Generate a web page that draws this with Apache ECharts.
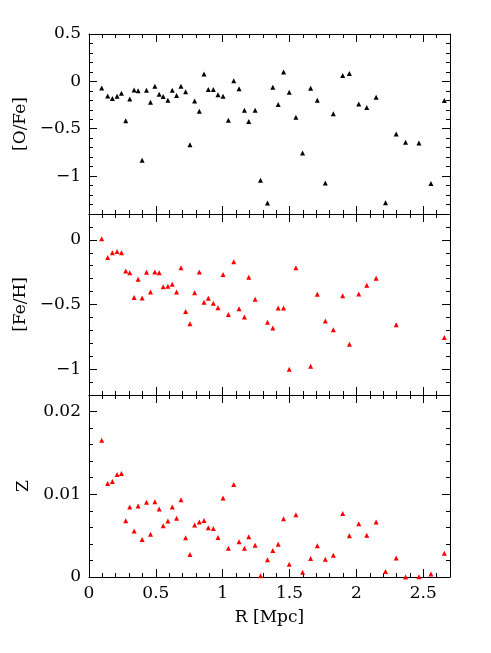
<!DOCTYPE html>
<html>
<head>
<meta charset="utf-8">
<script src="https://cdn.jsdelivr.net/npm/echarts@6/dist/echarts.min.js"></script>
<style>
html,body{margin:0;padding:0;background:#fff;}
#chart{width:491px;height:653px;}
</style>
</head>
<body>
<div id="chart"></div>
<script>
// Radius [Mpc]
const R = [0.095, 0.14, 0.175, 0.21, 0.2425, 0.275, 0.305, 0.3375, 0.3675, 0.3975,
  0.43, 0.46, 0.4925, 0.525, 0.555, 0.59, 0.6225, 0.655, 0.6875, 0.7225,
  0.755, 0.79, 0.825, 0.86, 0.8925, 0.93, 0.965, 1.0025, 1.0425, 1.0825,
  1.1225, 1.1625, 1.195, 1.2425, 1.2825, 1.335, 1.375, 1.415, 1.455, 1.4975,
  1.5475, 1.5975, 1.6575, 1.7075, 1.7675, 1.8275, 1.8975, 1.9475, 2.0175, 2.0775,
  2.1475, 2.2175, 2.2975, 2.3675, 2.4675, 2.5575, 2.6575];
// [O/Fe]
const OFe = [-0.07, -0.154, -0.18, -0.157, -0.126, -0.416, -0.185, -0.09, -0.098, -0.832,
  -0.094, -0.22, -0.052, -0.136, -0.16, -0.2, -0.094, -0.15, -0.052, -0.11,
  -0.67, -0.206, -0.315, 0.077, -0.087, -0.087, -0.14, -0.157, -0.41, 0.007,
  -0.077, -0.304, -0.423, -0.304, -1.045, -1.283, -0.063, -0.243, 0.098, -0.115,
  -0.378, -0.755, -0.073, -0.2, -1.073, -0.343, 0.063, 0.084, -0.238, -0.276,
  -0.168, -1.28, -0.556, -0.643, -0.65, -1.077, -0.203];
// [Fe/H] (null = below plotted range)
const FeH = [0.008, -0.136, -0.1, -0.09, -0.1, -0.241, -0.254, -0.446, -0.305, -0.449,
  -0.251, -0.403, -0.249, -0.254, -0.362, -0.359, -0.344, -0.403, -0.215, -0.554,
  -0.649, -0.41, -0.249, -0.482, -0.451, -0.49, -0.526, -0.267, -0.577, -0.169,
  -0.533, -0.597, -0.29, -0.459, null, -0.638, -0.682, -0.528, -0.528, -1.0,
  -0.215, null, -0.977, -0.42, -0.628, -0.695, -0.433, -0.808, -0.418, -0.351,
  -0.297, null, -0.656, null, null, null, -0.756];
// Z
const Zmet = [0.01652, 0.0113, 0.01154, 0.01239, 0.01251, 0.0068, 0.00846, 0.00555, 0.00858, 0.00453,
  0.00903, 0.00518, 0.00911, 0.00822, 0.00619, 0.00676, 0.00846, 0.00709, 0.00935, 0.00474,
  0.00271, 0.00628, 0.00664, 0.00684, 0.00595, 0.00587, 0.00478, 0.00955, 0.00348, 0.01117,
  0.00425, 0.00348, 0.00486, 0.00385, 0.00016, 0.0021, 0.0032, 0.00397, 0.00704, 0.00154,
  0.00753, 0.00057, 0.00223, 0.00377, 0.00215, 0.00263, 0.00769, 0.00498, 0.00644, 0.00506,
  0.00664, 0.00065, 0.00231, 0.0, 0.00004, 0.00036, 0.00287];

// Tick labels
const xTickLabels = ['0', '0.5', '1', '1.5', '2', '2.5'];
const ofeTickLabels = ['0.5', '0', '\u22120.5', '\u22121'];
const fehTickLabels = ['0', '\u22120.5', '\u22121'];
const zTickLabels = ['0.02', '0.01', '0'];

const FONT = 'DejaVu Serif';
const FS = 17;
const chart = echarts.init(document.getElementById('chart'), null, {renderer: 'canvas'});

const gridsPx = [
  {top: 34, height: 180},
  {top: 214, height: 181},
  {top: 395, height: 182}
];
const panels = [
  {name: '[O/Fe]', min: -1.4, max: 0.5, major: 0.5, minor: 0.1, labels: ofeTickLabels, nameGap: 56, data: OFe, color: '#000000'},
  {name: '[Fe/H]', min: -1.2, max: 0.2, major: 0.5, minor: 0.1, labels: fehTickLabels, nameGap: 56, data: FeH, color: '#ff0000'},
  {name: 'Z', min: 0, max: 0.022, major: 0.01, minor: 0.002, labels: zTickLabels, nameGap: 49, data: Zmet, color: '#ff0000'}
];

function fmt(v) {
  return String(+v.toFixed(6)).replace('-', '\u2212');
}

const grid = [], xAxis = [], yAxis = [], series = [];
const lineStyle = {color: '#000', width: 1};
panels.forEach((p, i) => {
  grid.push({left: 89, width: 361, top: gridsPx[i].top, height: gridsPx[i].height, containLabel: false});
  const isLast = i === panels.length - 1;
  ['bottom', 'top'].forEach(pos => {
    xAxis.push({
      type: 'value', gridIndex: i, position: pos, min: 0, max: 2.7, interval: 0.5,
      axisLine: {show: true, onZero: false, lineStyle},
      axisTick: {show: true, inside: true, length: 8, lineStyle},
      axisLabel: {
        show: isLast && pos === 'bottom', margin: 8, fontFamily: FONT, fontSize: FS, color: '#000',
        formatter: v => { const s = fmt(v); return xTickLabels.includes(s) ? s : ''; }
      },
      splitLine: {show: false},
      name: (isLast && pos === 'bottom') ? 'R [Mpc]' : '',
      nameLocation: 'middle', nameGap: 32,
      nameTextStyle: {fontFamily: FONT, fontSize: FS, color: '#000'}
    });
    xAxis.push({
      type: 'value', gridIndex: i, position: pos, min: 0, max: 2.7, interval: 0.1,
      axisLine: {show: false, onZero: false},
      axisTick: {show: true, inside: true, length: 4, lineStyle},
      axisLabel: {show: false}, splitLine: {show: false}
    });
  });
  ['left', 'right'].forEach(pos => {
    yAxis.push({
      type: 'value', gridIndex: i, position: pos, min: p.min, max: p.max,
      minInterval: p.major, maxInterval: p.major, splitNumber: 4,
      axisLine: {show: true, onZero: false, lineStyle},
      axisTick: {show: true, inside: true, length: 8, lineStyle},
      axisLabel: {
        show: pos === 'left', margin: 8, fontFamily: FONT, fontSize: FS, color: '#000',
        formatter: v => { const s = fmt(v); return p.labels.includes(s) ? s : ''; }
      },
      splitLine: {show: false},
      name: pos === 'left' ? p.name : '',
      nameLocation: 'middle', nameGap: p.nameGap, nameRotate: 90,
      nameTextStyle: {fontFamily: FONT, fontSize: FS, color: '#000'}
    });
    yAxis.push({
      type: 'value', gridIndex: i, position: pos, min: p.min, max: p.max, interval: p.minor,
      axisLine: {show: false, onZero: false},
      axisTick: {show: true, inside: true, length: 4, lineStyle},
      axisLabel: {show: false}, splitLine: {show: false}
    });
  });
  const pts = [];
  R.forEach((r, k) => { if (p.data[k] !== null) pts.push([r, p.data[k]]); });
  series.push({
    type: 'scatter', xAxisIndex: i * 4, yAxisIndex: i * 4,
    symbol: 'triangle', symbolSize: 5,
    itemStyle: {color: p.color, opacity: 1},
    data: pts, clip: true, silent: true
  });
});

chart.setOption({
  animation: false,
  backgroundColor: '#fff',
  grid, xAxis, yAxis, series
});
</script>
</body>
</html>
